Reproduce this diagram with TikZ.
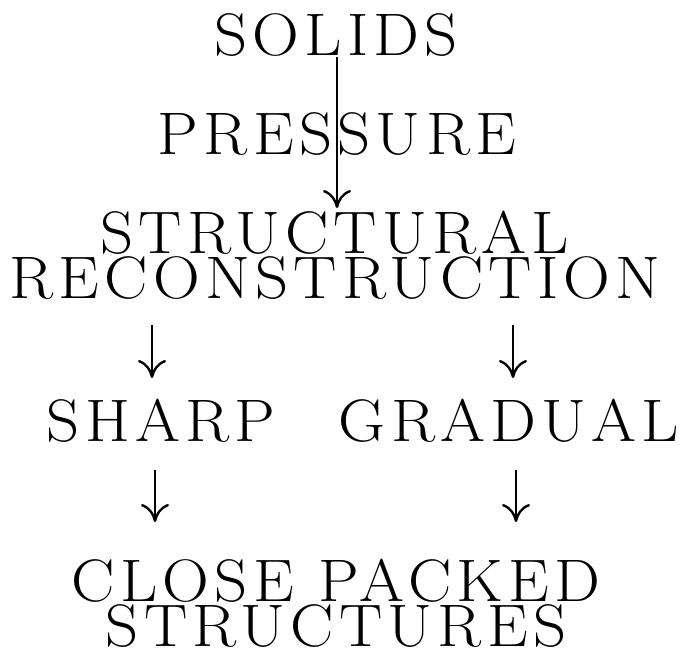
\documentclass[tikz,border=0pt]{standalone}
\usepackage{fontspec}
\usepackage{graphicx}
\usetikzlibrary{arrows.meta}
\newfontfamily\bigrm{Latin Modern Roman}[LetterSpace=8.1]
\newcommand{\wide}[1]{\scalebox{1.08}[1]{#1}}
\tikzset{
  lbl/.style={font=\bigrm\fontsize{60}{45}\selectfont, inner sep=0pt, align=center},
  arr/.style={line width=2.4pt, -{To[length=18pt,width=28pt]}}
}
\begin{document}
\begin{tikzpicture}[x=1pt,y=-1pt]
\useasboundingbox (0,0) rectangle (683,655);
\node[lbl,anchor=base] (solids) at (336,56) {\wide{SOLIDS}};
\node[lbl,anchor=base] (pressure) at (337,155) {\wide{PRESSURE}};
\node[lbl] (recon) at (335,255) {\wide{STRUCTURAL}\\\wide{RECONSTRUCTION}};
\node[lbl,anchor=base] (sharp) at (161,441) {\wide{SHARP}};
\node[lbl,anchor=base] (gradual) at (509,441) {\wide{GRADUAL}};
\node[lbl] (close) at (336,603.5) {\wide{CLOSE PACKED}\\\wide{STRUCTURES}};
\coordinate (t1) at (337,208);
\coordinate (a1s) at (152,325);
\coordinate (a1e) at (152,378);
\coordinate (a2s) at (513,325);
\coordinate (a2e) at (513,378);
\coordinate (b1s) at (155,470);
\coordinate (b1e) at (155,522);
\coordinate (b2s) at (516,470);
\coordinate (b2e) at (516,522);
\draw[arr] (solids.south -| t1) -- (t1);
\draw[arr] (a1s) -- (a1e);
\draw[arr] (a2s) -- (a2e);
\draw[arr] (b1s) -- (b1e);
\draw[arr] (b2s) -- (b2e);
\end{tikzpicture}
\end{document}
